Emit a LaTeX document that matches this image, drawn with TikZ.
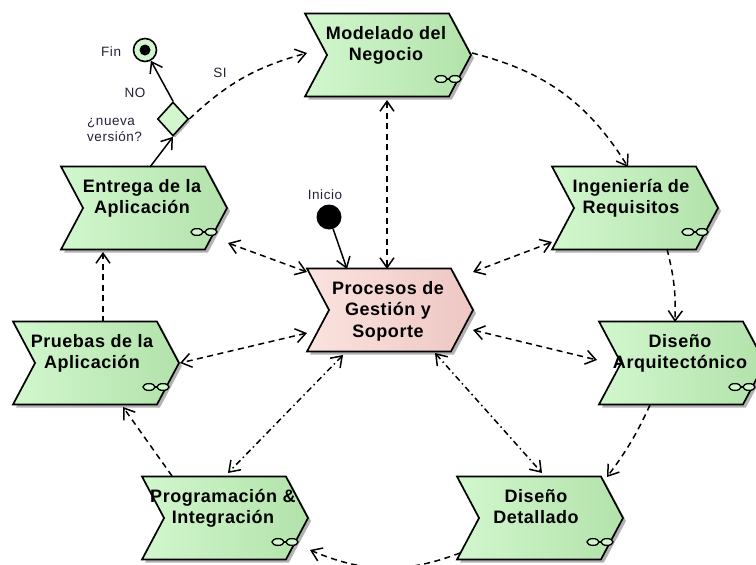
\documentclass[tikz,border=0pt]{standalone}
\usepackage{fontspec}
\setmainfont{Liberation Sans}
\newfontfamily\boxfont[LetterSpace=3]{Liberation Sans}
\newfontfamily\notefont[LetterSpace=4]{Liberation Sans}
\usetikzlibrary{shapes.symbols,shapes.geometric,shadows,arrows.meta,calc}

\definecolor{actL}{HTML}{D2F7CE}
\definecolor{actR}{HTML}{B2E2AA}
\definecolor{mgmtL}{HTML}{FBE3DF}
\definecolor{mgmtR}{HTML}{EDC7C3}
\definecolor{lbl}{HTML}{222238}

% small "linked sub-process" mark in the lower right corner of an activity
\newcommand\linkmark[1]{%
  \draw[line width=1.3pt] ($(#1)+(52,24)$) -- ($(#1)+(68,24)$);
  \draw[line width=1.3pt,fill=actL] ($(#1)+(53,24)$) ellipse [x radius=6,y radius=3.4];
  \draw[line width=1.3pt,fill=actL] ($(#1)+(67,24)$) ellipse [x radius=6,y radius=3.4];}

\begin{document}
\begin{tikzpicture}[x=1pt,y=-1pt,
  act/.style={signal, signal to=east, signal from=west, signal pointer angle=124,
    minimum width=166pt, minimum height=83pt, inner sep=0pt,
    draw=black, line width=1.7pt, left color=actL, right color=actR,
    drop shadow={shadow xshift=3pt,shadow yshift=-3pt,opacity=0.3,fill=black}},
  mgmt/.style={act, left color=mgmtL, right color=mgmtR},
  title/.style={font=\boxfont\bfseries\fontsize{18}{21.5}\selectfont,
    align=center, anchor=north, inner sep=0pt, text=black},
  small/.style={font=\notefont\fontsize{13.5}{16}\selectfont, inner sep=0pt, text=lbl},
  flow/.style={line width=1.5pt, dash pattern=on 6pt off 4.5pt, -{Straight Barb[length=10pt,width=14pt]}},
  link/.style={line width=1.5pt, dash pattern=on 6pt off 4.5pt,
    {Straight Barb[length=10pt,width=14pt]}-{Straight Barb[length=10pt,width=14pt]}},
  dlink/.style={link, dash pattern=on 6pt off 3.5pt on 1.5pt off 3.5pt},
  solidarrow/.style={line width=1.5pt, -{Straight Barb[length=10pt,width=14pt]}}
]
\useasboundingbox (0,0) rectangle (756,565);

% activities
\node[act]  (mod)  at (388,55)  {};
\node[act]  (ing)  at (635,208) {};
\node[act]  (arq)  at (682,363) {};
\node[act]  (det)  at (540,518) {};
\node[act]  (prog) at (225,518) {};
\node[act]  (prue) at (96,363)  {};
\node[act]  (ent)  at (144,208) {};
\node[mgmt] (proc) at (390,310) {};

\foreach \n in {mod,ing,arq,det,prog,prue,ent} {\linkmark{\n}}

% activity titles
\node[title] (mod-t)  at ($(mod)+(-2,-29)$)  {Modelado del\\Negocio};
\node[title] (ing-t)  at ($(ing)+(-4,-29)$)  {Ingeniería de\\Requisitos};
\node[title] (arq-t)  at ($(arq)+(-2,-29)$)  {Diseño\\Arquitectónico};
\node[title] (det-t)  at ($(det)+(-4,-29)$)  {Diseño\\Detallado};
\node[title] (prog-t) at ($(prog)+(-2,-29)$) {Programación \&\\Integración};
\node[title] (prue-t) at ($(prue)+(-4,-29)$) {Pruebas de la\\Aplicación};
\node[title] (ent-t)  at ($(ent)+(-2,-29)$)  {Entrega de la\\Aplicación};
\node[title] (proc-t) at ($(proc)+(-2,-29)$) {Procesos de\\Gestión y\\Soporte};

% start, decision and end
\node[circle, fill=black, minimum size=25pt, inner sep=0pt] (ini) at (329,217) {};
\node[small] (ini-l) at (325,195) {Inicio};
\node[diamond, draw=black, line width=1.6pt, fill=actL, minimum width=31pt, minimum height=34pt,
  inner sep=0pt, drop shadow={shadow xshift=2pt,shadow yshift=-2pt,opacity=0.3,fill=black}] (dec) at (173,119) {};
\node[circle, draw=black, line width=1.6pt, fill=actL, minimum size=23pt, inner sep=0pt] (fin) at (145,50) {};
\node[circle, fill=black, minimum size=11pt, inner sep=0pt] (fin-c) at (fin) {};
\node[small, anchor=west] (fin-l) at (101,52) {Fin};
\node[small] (no-l) at (135,93) {NO};
\node[small] (si-l) at (220,73) {SI};
\node[small, anchor=west, align=left] (dec-l) at (87,130) {¿nueva\\versión?};

% main cycle
\draw[flow] ($(mod)+(84,-2)$) to[bend left=22] ($(ing)+(-7,-41)$);
\draw[flow] ($(ing)+(32,41)$) to[bend left=8] ($(arq)+(-7,-41)$);
\draw[flow] ($(arq)+(-32,42)$) to[bend left=6] ($(det)+(67,-41)$);
\draw[flow] ($(det)+(-80,35)$) to[bend left=22] ($(prog)+(85,32)$);
\draw[flow] ($(prog)+(-53,-42)$) -- ($(prue)+(27,44)$);
\draw[flow] ($(prue)+(7,-41)$) -- ($(ent)+(-41,44)$);
\draw[solidarrow] ($(ent)+(6,-41)$) -- (dec.south);
\draw[solidarrow] (dec.north) -- (fin);
\draw[flow] (dec.east) to[bend left=14] ($(mod)+(-81,-2)$);

% links with the management processes
\draw[solidarrow] (ini) -- ($(proc)+(-43,-41)$);
\draw[link] ($(mod)+(-1,45)$) -- ($(proc)+(-3,-41)$);
\draw[link] ($(proc)+(83,-38)$) -- ($(ing)+(-83,34)$);
\draw[link] ($(proc)+(83,20)$) -- ($(arq)+(-85,-3)$);
\draw[dlink] ($(proc)+(45,43)$) -- ($(det)+(2,-45)$);
\draw[link] ($(proc)+(-83,-38)$) -- ($(ent)+(84,35)$);
\draw[link] ($(proc)+(-83,23)$) -- ($(prue)+(84,0)$);
\draw[dlink] ($(proc)+(-47,45)$) -- ($(prog)+(3,-45)$);
\end{tikzpicture}
\end{document}
